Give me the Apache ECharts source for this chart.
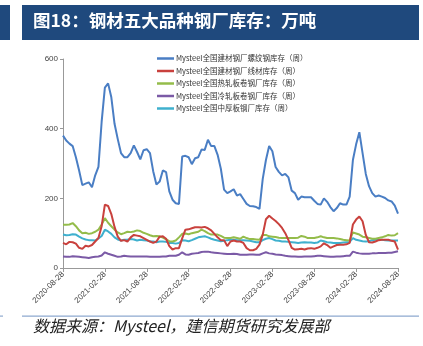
<!DOCTYPE html>
<html><head><meta charset="utf-8">
<script src="https://cdn.jsdelivr.net/npm/echarts@6/dist/echarts.min.js"></script>
<style>html,body{margin:0;padding:0;background:#fff}#c{width:423px;height:346px}</style>
</head><body><div id="c"></div>
<script>
const tickLabels = ["2020-08-28","2021-02-28","2021-08-28","2022-02-28","2022-08-28","2023-02-28","2023-08-28","2024-02-28","2024-08-28"];
const seriesNames = ["Mysteel全国建材钢厂螺纹钢库存（周）","Mysteel全国建材钢厂线材库存（周）","Mysteel全国热轧板卷钢厂库存（周）","Mysteel全国冷轧板卷钢厂库存（周）","Mysteel全国中厚板钢厂库存（周）"];
const rebar = [380,366,357,350,318,280,238,242,246,232,266,290,420,518,530,490,414,370,330,318,318,330,352,333,312,338,341,330,278,240,248,280,275,220,196,186,184,320,322,318,298,315,318,340,339,368,350,350,325,285,225,215,220,
226,208,212,198,184,178,177,175,170,255,310,350,335,290,276,266,270,260,222,215,196,205,203,203,203,193,184,182,200,190,175,163,172,186,182,182,205,310,355,390,330,270,235,215,205,208,205,201,194,191,179,156];
const wire = [72,68,75,74,70,58,55,64,62,66,76,86,120,182,178,155,118,90,78,80,76,88,95,93,91,86,81,76,72,76,90,91,84,63,53,57,57,85,110,111,114,117,117,116,118,114,108,98,88,80,80,63,76,
79,76,76,72,57,51,51,55,67,95,140,150,142,135,126,115,100,80,58,53,54,55,53,56,57,55,58,62,71,66,58,62,66,67,67,68,72,125,139,148,134,95,74,73,76,80,81,81,81,78,76,53];
const hotRolled = [124,124,125,129,120,108,100,101,98,100,104,110,125,143,130,120,110,102,97,100,104,103,105,108,106,101,98,94,91,92,91,87,82,77,76,79,88,98,99,97,100,102,104,110,106,100,96,96,96,92,87,86,86,
88,86,84,90,86,83,83,82,81,95,95,91,90,89,87,86,86,86,86,86,87,92,90,86,86,86,88,91,88,86,86,86,85,83,81,80,79,102,99,96,90,88,86,84,84,86,88,91,95,93,94,100];
const coldRolled = [33,32,32,34,33,32,31,30,29,31,32,33,36,45,41,38,35,32,33,35,34,33,33,33,33,33,33,32,32,32,32,33,33,35,35,35,38,45,39,38,41,42,43,46,47,47,45,44,43,42,41,40,40,
41,40,38,38,38,39,39,38,38,42,45,42,41,39,38,37,35,34,33,33,32,32,33,33,33,34,35,35,34,33,32,32,33,33,34,35,35,47,44,42,41,41,41,42,42,43,43,43,44,44,46,48];
const plate = [96,94,95,97,96,90,85,82,80,80,79,85,92,110,105,98,88,82,79,81,81,83,82,79,81,80,79,77,76,74,76,76,75,72,72,70,72,80,79,77,80,84,88,90,91,88,84,81,79,77,78,80,81,
81,80,80,80,79,78,76,74,74,80,84,86,83,79,78,76,76,75,74,73,72,73,74,73,73,72,73,79,77,74,73,72,72,72,73,74,75,86,81,79,77,76,77,80,81,81,81,80,79,79,79,79];

// bi-weekly categories
const categories = [];
{ const d0 = Date.UTC(2020,7,28); for (let i=0;i<rebar.length;i++){ const d=new Date(d0+i*14*86400000); categories.push(d.toISOString().slice(0,10)); } }

const colors = ['#4A7EC4','#C9413D','#94BC4A','#7B5AA6','#3FB0CE'];
const values = [rebar, wire, hotRolled, coldRolled, plate];

const chart = echarts.init(document.getElementById('c'), null, {renderer:'canvas'});
chart.setOption({
  animation:false,
  color: colors,
  grid:{left:63, right:25, top:59, bottom:78, containLabel:false},
  legend:{
    orient:'vertical', left:152, top:49, itemGap:3.5, itemWidth:17, itemHeight:2.5, icon:'rect',
    textStyle:{fontSize:7.5, lineHeight:9, color:'#333', fontFamily:'"Noto Sans CJK SC", sans-serif', padding:[0,0,0,-3]},
    data: seriesNames
  },
  xAxis:{
    type:'category', data:categories, boundaryGap:false,
    axisLine:{lineStyle:{color:'#999', width:1}},
    axisTick:{show:true, interval:12, length:4, lineStyle:{color:'#999'}},
    axisLabel:{interval:12, rotate:45, fontSize:8, color:'#444', fontFamily:'"Liberation Sans", Arial, sans-serif', margin:5,
      formatter:(v,i)=> tickLabels[Math.round(i/13)] || ''},
    splitLine:{show:false}
  },
  yAxis:{
    type:'value', min:0, max:600, interval:200,
    axisLine:{show:true, lineStyle:{color:'#999'}},
    axisTick:{show:true, length:3, lineStyle:{color:'#999'}},
    axisLabel:{fontSize:8, color:'#444', fontFamily:'"Liberation Sans", Arial, sans-serif', margin:5},
    splitLine:{show:false}
  },
  series: seriesNames.map((n,k)=>({
    name:n, type:'line', data:values[k], showSymbol:false, symbol:'none',
    lineStyle:{width:2, color:colors[k]}, smooth:false, z: 10-k
  })),
  graphic:[
    {type:'rect', shape:{x:0,y:5,width:10,height:35}, style:{fill:'#1F497D'}},
    {type:'rect', shape:{x:22,y:5,width:397,height:35}, style:{fill:'#1F497D'}},
    {type:'text', left:33, top:12, style:{text:'图18：钢材五大品种钢厂库存：万吨', fill:'#fff', font:'bold 17.5px "Noto Sans CJK SC", sans-serif'}},
    {type:'rect', shape:{x:22,y:315.5,width:397,height:1.2}, style:{fill:'#8EA9CF'}},
    {type:'rect', shape:{x:0,y:315.5,width:3,height:1.2}, style:{fill:'#8EA9CF'}},
    {type:'text', left:33, top:318, style:{text:'数据来源：Mysteel，建信期货研究发展部', fill:'#222', font:'italic 16px "Noto Sans CJK SC", sans-serif'}}
  ]
});
</script></body></html>
